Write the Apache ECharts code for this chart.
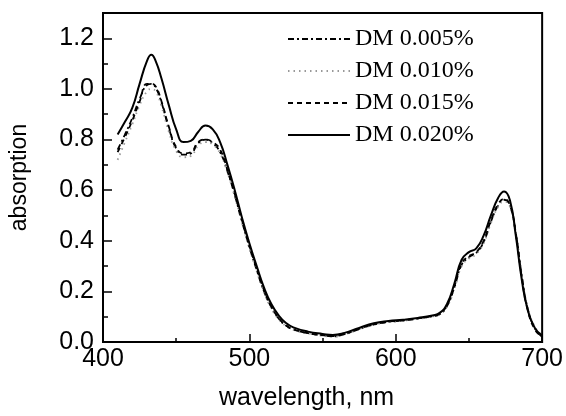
<!DOCTYPE html>
<html>
<head>
<meta charset="utf-8">
<script src="https://cdn.jsdelivr.net/npm/echarts@6/dist/echarts.min.js"></script>
<style>
  html, body { margin: 0; padding: 0; background: #fff; }
  #chart { width: 566px; height: 416px; }
</style>
</head>
<body>
<div id="chart"></div>
<script>
// wavelength (nm)
const wavelength = [410, 415, 420, 425, 430, 433, 436, 440, 445, 450, 455, 460, 465, 470, 475, 480, 485, 490, 495, 500,
  505, 510, 515, 520, 525, 530, 540, 550, 557, 565, 575, 585, 595, 605, 615, 625, 630, 635, 640, 645,
  650, 655, 660, 665, 670, 674, 678, 682, 686, 690, 695, 700];

// absorption for each DM concentration
const dm005 = [0.76, 0.82, 0.885, 0.96, 1.015, 1.02, 1.005, 0.945, 0.845, 0.765, 0.74, 0.745, 0.785, 0.80, 0.785, 0.75, 0.675, 0.58, 0.475, 0.375,
  0.285, 0.20, 0.138, 0.093, 0.065, 0.05, 0.035, 0.026, 0.022, 0.031, 0.051, 0.069, 0.079, 0.085, 0.092, 0.102, 0.11, 0.142, 0.215, 0.305,
  0.335, 0.352, 0.395, 0.475, 0.54, 0.562, 0.54, 0.43, 0.265, 0.135, 0.055, 0.02];
const dm010 = [0.72, 0.79, 0.86, 0.935, 0.99, 1.0, 0.99, 0.93, 0.83, 0.755, 0.73, 0.735, 0.775, 0.79, 0.78, 0.745, 0.67, 0.575, 0.47, 0.37,
  0.28, 0.195, 0.133, 0.09, 0.063, 0.048, 0.034, 0.025, 0.021, 0.03, 0.05, 0.068, 0.078, 0.084, 0.091, 0.101, 0.109, 0.14, 0.21, 0.30,
  0.33, 0.348, 0.39, 0.47, 0.535, 0.555, 0.535, 0.435, 0.27, 0.14, 0.06, 0.025];
const dm015 = [0.75, 0.81, 0.875, 0.95, 1.02, 1.02, 1.01, 0.95, 0.85, 0.77, 0.745, 0.75, 0.79, 0.80, 0.79, 0.76, 0.68, 0.585, 0.48, 0.38,
  0.29, 0.205, 0.14, 0.095, 0.066, 0.05, 0.035, 0.027, 0.023, 0.032, 0.052, 0.07, 0.08, 0.086, 0.093, 0.103, 0.112, 0.145, 0.22, 0.31,
  0.34, 0.355, 0.40, 0.48, 0.545, 0.565, 0.54, 0.43, 0.26, 0.13, 0.05, 0.02];
const dm020 = [0.82, 0.87, 0.925, 1.02, 1.11, 1.135, 1.11, 1.04, 0.935, 0.84, 0.79, 0.795, 0.83, 0.855, 0.84, 0.79, 0.70, 0.60, 0.49, 0.39,
  0.30, 0.215, 0.15, 0.105, 0.075, 0.058, 0.041, 0.032, 0.028, 0.036, 0.056, 0.074, 0.083, 0.088, 0.095, 0.105, 0.115, 0.15, 0.23, 0.325,
  0.355, 0.37, 0.42, 0.50, 0.57, 0.595, 0.56, 0.42, 0.25, 0.13, 0.055, 0.025];

const seriesNames = ['DM 0.005%', 'DM 0.010%', 'DM 0.015%', 'DM 0.020%'];

const pairs = ys => wavelength.map((x, i) => [x, ys[i]]);
const labelFont = 'Liberation Sans, Arial, sans-serif';

const chart = echarts.init(document.getElementById('chart'));

const option = {
  backgroundColor: '#fff',
  animation: false,
  grid: {
    left: 99, right: 22, top: 13, bottom: 67,
    show: true, borderColor: '#000', borderWidth: 2, backgroundColor: 'transparent'
  },
  legend: {
    orient: 'vertical',
    left: 287,
    top: 27,
    padding: 0,
    itemWidth: 62,
    itemHeight: 14,
    itemGap: 8,
    data: seriesNames,
    itemStyle: { opacity: 0 },
    textStyle: { fontFamily: 'Liberation Serif, Times New Roman, serif', fontSize: 24, lineHeight: 24, color: '#000' }
  },
  xAxis: [
    {
      type: 'value', min: 400, max: 700, interval: 100,
      name: 'wavelength, nm', nameLocation: 'middle', nameGap: 44,
      nameTextStyle: { fontFamily: labelFont, fontSize: 25, color: '#000', padding: [0, 32, 0, 0] },
      axisLine: { lineStyle: { color: '#000', width: 2 } },
      axisTick: { inside: true, length: 8, lineStyle: { color: '#000', width: 1.5 } },
      axisLabel: { fontFamily: labelFont, fontSize: 25, color: '#000', margin: 5 },
      splitLine: { show: false }
    },
    {
      // minor ticks every 50 nm
      type: 'value', min: 400, max: 700, interval: 50, position: 'bottom',
      axisLine: { show: false },
      axisTick: { inside: true, length: 4, lineStyle: { color: '#000', width: 1.5 } },
      axisLabel: { show: false },
      splitLine: { show: false }
    }
  ],
  yAxis: [
    {
      type: 'value', min: 0, max: 1.3, interval: 0.2,
      name: 'absorption', nameLocation: 'middle', nameGap: 72,
      nameTextStyle: { fontFamily: labelFont, fontSize: 23, color: '#000' },
      axisLine: { lineStyle: { color: '#000', width: 2 } },
      axisTick: { inside: true, length: 9, lineStyle: { color: '#000', width: 1.5 } },
      axisLabel: {
        fontFamily: labelFont, fontSize: 25, color: '#000', margin: 9,
        formatter: v => (v > 1.25 ? '' : v.toFixed(1))
      },
      splitLine: { show: false }
    },
    {
      // minor ticks every 0.1
      type: 'value', min: 0, max: 1.3, interval: 0.1, position: 'left',
      axisLine: { show: false },
      axisTick: { inside: true, length: 5, lineStyle: { color: '#000', width: 1.5 } },
      axisLabel: { show: false },
      splitLine: { show: false }
    }
  ],
  series: [
    {
      name: seriesNames[0], type: 'line', data: pairs(dm005), smooth: true, symbol: 'none',
      lineStyle: { color: '#000', width: 1.8, type: [6, 3, 2, 3] }, itemStyle: { color: '#000' }
    },
    {
      name: seriesNames[1], type: 'line', data: pairs(dm010), smooth: true, symbol: 'none',
      lineStyle: { color: '#999', width: 1.8, type: [1.5, 4] }, itemStyle: { color: '#999' }
    },
    {
      name: seriesNames[2], type: 'line', data: pairs(dm015), smooth: true, symbol: 'none',
      lineStyle: { color: '#000', width: 1.8, type: [5, 4] }, itemStyle: { color: '#000' }
    },
    {
      name: seriesNames[3], type: 'line', data: pairs(dm020), smooth: true, symbol: 'none',
      lineStyle: { color: '#000', width: 2 }, itemStyle: { color: '#000' }
    }
  ]
};

chart.setOption(option);
</script>
</body>
</html>
